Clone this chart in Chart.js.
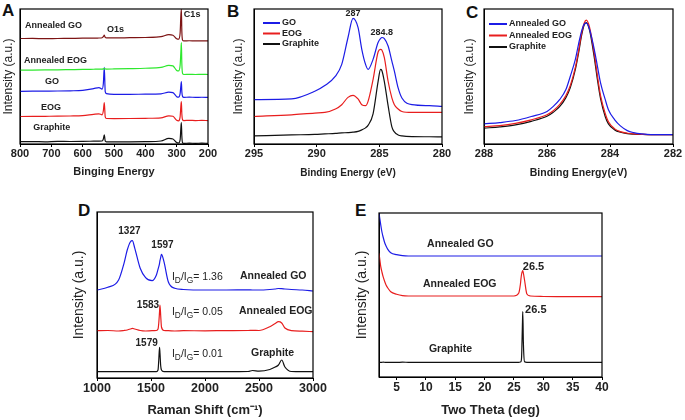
<!DOCTYPE html>
<html>
<head>
<meta charset="utf-8">
<script src="https://cdn.jsdelivr.net/npm/chart.js@4.4.1/dist/chart.umd.min.js"></script>
<style>
  body { margin: 0; background: #fff; width: 685px; height: 420px; position: relative; overflow: hidden; font-family: 'Liberation Sans', Arial, sans-serif; }
  .panel { position: absolute; }
  .tag { position: absolute; font-weight: bold; font-size: 17px; line-height: 17px; color: #111; }
</style>
</head>
<body>
<div class="tag" style="left:2px;top:2px">A</div>
<div class="tag" style="left:227px;top:3px">B</div>
<div class="tag" style="left:466px;top:4px">C</div>
<div class="tag" style="left:78px;top:202px">D</div>
<div class="tag" style="left:355px;top:202px">E</div>

<div class="panel" style="left:0;top:0;width:223px;height:179px"><canvas id="chartA"></canvas></div>
<div class="panel" style="left:225px;top:0;width:232px;height:179px"><canvas id="chartB"></canvas></div>
<div class="panel" style="left:450px;top:0;width:235px;height:179px"><canvas id="chartC"></canvas></div>
<div class="panel" style="left:60px;top:200px;width:268px;height:218px"><canvas id="chartD"></canvas></div>
<div class="panel" style="left:345px;top:200px;width:272px;height:218px"><canvas id="chartE"></canvas></div>

<script>
// ---- A : survey XPS (binding energy, eV)
const surveyEnergy = [800, 760, 720, 680, 640, 600, 565, 548, 538, 534, 531, 528, 524, 500, 450, 400, 350, 325, 312, 300, 294, 289, 286.5, 285, 283.5, 281, 277, 260, 240, 220, 200];
const surveyAnnealedGO  = [104.7, 104.8, 104.5, 104.7, 104.8, 105, 105, 105.2, 105.5, 106.5, 108, 105.8, 105.3, 105.3, 105.5, 105.7, 106.5, 108.5, 108, 104.5, 104, 110, 128, 134, 112, 103, 102.3, 102.5, 102.3, 102.4, 102.3];
const surveyAnnealedEOG = [73.3, 73.4, 73.5, 73.6, 73.8, 74, 74.2, 74.3, 74.4, 74.6, 75, 74.5, 74.4, 74.5, 74.8, 75.2, 76, 78, 77.5, 73, 72.5, 78, 92, 100.7, 80, 70, 69, 69.2, 69, 69.1, 69];
const surveyGO          = [52.3, 52.4, 52.5, 52.6, 52.8, 53.2, 55, 56, 54.5, 60, 76, 52, 50, 49.3, 49.3, 49.5, 49.8, 51.5, 51, 47, 46.5, 50, 58, 62, 52, 47, 46.3, 46.5, 46.3, 46.4, 46.3];
const surveyEOG         = [27.3, 27.4, 27.5, 27.6, 27.8, 28.2, 29.5, 30, 29, 33, 41, 27, 25.3, 25.2, 25.3, 25.5, 26, 28, 27.5, 23.5, 23, 27, 38, 42, 30, 24, 23.3, 23.5, 23.3, 23.4, 23.3];
const surveyGraphite    = [2.3, 2.4, 2.2, 2.6, 2.5, 2.6, 2.8, 2.9, 3, 5, 9, 3, 2.2, 2.1, 2.2, 2.4, 3, 5.5, 5, 1.5, 1, 4, 16, 21.3, 8, 1.2, 0.7, 0.8, 0.7, 0.8, 0.7];

// ---- B : C1s of GO / EOG / graphite
const c1sEnergy = [295, 292, 290.15, 289.35, 288.5, 288, 287.5, 287.1, 286.7, 286.4, 286.1, 285.9, 285.5, 285.1, 284.9, 284.8, 284.6, 284.3, 284.0, 283.8, 283.5, 283.2, 282.4, 281, 280];
const c1sGO       = [44, 44.7, 52.3, 58, 67.3, 79, 105.7, 124.7, 115.7, 94, 79, 74, 84, 100.7, 104.7, 105.7, 104.7, 97.3, 82.3, 72.3, 55.7, 45.7, 39, 38, 37.3];
const c1sEOG      = [27.3, 29, 30.7, 31.3, 34.7, 39, 46.3, 48.3, 44.7, 39, 38, 42.3, 64, 91.3, 94, 93.3, 85.7, 62.3, 45.7, 39, 34.7, 32.3, 31.3, 31.3, 31.3];
const c1sGraphite = [8, 9, 9.5, 10, 10.5, 11, 11.3, 11.7, 12.5, 14, 16, 18.5, 30, 62, 74, 73, 62, 38, 17, 12, 9, 8, 7.3, 7.2, 7];

// ---- C : C1s after annealing
const annEnergy = [288, 287.5, 287, 286.5, 286, 285.8, 285.6, 285.4, 285.26, 285.1, 285, 284.9, 284.82, 284.75, 284.65, 284.5, 284.4, 284.3, 284.15, 284.05, 283.85, 283.67, 283.45, 283.25, 283, 282.7, 282];
const annGO       = [20, 21.3, 23.3, 27.3, 32.3, 37.3, 44, 54, 67.3, 84, 99, 112.3, 119, 120, 114, 94, 77.3, 60.7, 44, 34, 24, 18, 13.3, 11.3, 10, 9.3, 9.3];
const annEOG      = [17.3, 18.3, 20.5, 24, 29, 33, 39, 48, 58, 76, 92, 110, 120, 123, 116, 90, 68, 48, 30, 22, 15, 12.3, 10.7, 10, 9.6, 9.3, 9.3];
const annGraphite = [15.7, 17, 19, 22.5, 27.5, 31.5, 37, 46, 56, 74, 90, 108, 118, 120.5, 113, 86, 64, 45, 27, 20, 14, 11.7, 10.3, 9.8, 9.5, 9.3, 9.3];

// ---- D : Raman (cm-1)
const ramanShift = [1000, 1100, 1200, 1250, 1280, 1310, 1327, 1350, 1400, 1450, 1510, 1550, 1565, 1572, 1579, 1583, 1590, 1597, 1620, 1660, 1720, 1800, 2000, 2200, 2400, 2440, 2500, 2600, 2650, 2680, 2710, 2740, 2800, 2900, 3000];
const ramanAnnealedGO  = [88, 90.7, 98, 114.7, 128, 136.3, 137.3, 129.7, 109.7, 100.3, 97.3, 103, 108.7, 111.3, 114.7, 117.3, 120.7, 123.7, 116.3, 96.3, 89.7, 88.5, 88, 88, 88.2, 88, 88, 88.5, 89, 89.5, 89.3, 89, 88.5, 88, 87];
const ramanAnnealedEOG = [47.3, 47.5, 47, 47.5, 48, 49, 49.7, 49, 47.5, 47, 47.3, 47.5, 49, 55, 66, 73, 62, 51, 47.5, 47.3, 47, 47.3, 47.2, 47.4, 47.5, 47.7, 47.5, 51.3, 54.5, 56.3, 55, 50, 47.3, 46.8, 46.3];
const ramanGraphite    = [6.3, 6.3, 6.3, 6.3, 6.3, 6.3, 6.3, 6.3, 6.3, 6.3, 6.3, 6.3, 8, 18, 30.7, 25, 12, 8, 6.3, 6.3, 6.3, 6.3, 6.3, 6.3, 6.5, 7.5, 6.8, 8.5, 11, 13, 18, 11, 6.5, 6.3, 6.3];

// ---- E : XRD (two theta, deg)
const twoTheta = [2, 2.15, 2.3, 2.5, 2.7, 3, 3.2, 3.5, 4, 5, 6, 7, 10, 15, 20, 25, 25.8, 26.1, 26.2, 26.3, 26.45, 26.5, 26.6, 26.8, 27.2, 27.8, 30, 35, 40];
const xrdAnnealedGO  = [163.7, 158, 152, 145, 140, 133.7, 131, 127.7, 124.3, 122.3, 121.3, 121, 121, 121, 121, 121, 121, 121, 121, 121, 121, 121, 121, 121, 121, 121, 121, 121, 121];
const xrdAnnealedEOG = [123.7, 117, 110.3, 105, 100.3, 95, 92, 89, 85.3, 82.7, 81.3, 81, 81, 81, 81, 81, 83.7, 93, 98.7, 103, 106, 106.3, 104, 97, 83, 81, 80.5, 80.3, 80.3];
const xrdGraphite    = [14.7, 14.7, 14.6, 14.7, 14.8, 14.7, 14.6, 14.7, 14.7, 14.6, 14.8, 14.7, 14.6, 14.7, 14.7, 14.7, 14.7, 15, 15.5, 20, 55, 65.3, 35, 15.3, 14.7, 14.7, 14.7, 14.7, 14.7];

const BLUE = '#1c1ce6', RED = '#e81e1e', BLACK = '#111', GREEN = '#2ee82e', BROWN = '#7d1414';
const FONT = "'Liberation Sans', Arial, sans-serif";
const TXT = '#222';

Chart.defaults.font.family = FONT;
Chart.defaults.color = TXT;

// draws rich text: "_X" makes X a subscript
function drawRich(ctx, text, px, py, size, bold, align) {
  const parts = text.split(/_(\w)/);
  const f = (s) => (bold ? 'bold ' : '') + s + 'px ' + FONT;
  let w = 0;
  parts.forEach((p, i) => { ctx.font = f(i % 2 ? size * 0.8 : size); w += ctx.measureText(p).width; });
  let cx = align === 'center' ? px - w / 2 : px;
  parts.forEach((p, i) => {
    const sub = i % 2 === 1;
    ctx.font = f(sub ? size * 0.8 : size);
    ctx.fillText(p, cx, py + (sub ? size * 0.35 : 0));
    cx += ctx.measureText(p).width;
  });
}

const decor = {
  id: 'decor',
  afterDatasetsDraw(chart, args, opts) {
    const { ctx, chartArea: a, scales: { x, y } } = chart;
    ctx.save();
    ctx.strokeStyle = '#000';
    ctx.lineWidth = 1.2;
    ctx.strokeRect(a.left, a.top, a.right - a.left, a.bottom - a.top);
    ctx.fillStyle = TXT;
    ctx.textBaseline = 'middle';
    ctx.textAlign = 'left';
    (opts.notes || []).forEach(n => {
      drawRich(ctx, n.t, x.getPixelForValue(n.x), y.getPixelForValue(n.y), n.size || opts.size, n.bold !== false, n.align);
    });
    const lg = opts.legend;
    if (lg) {
      chart.data.datasets.forEach((ds, i) => {
        const ly = a.top + lg.y + i * lg.gap;
        const lx = a.left + lg.x;
        ctx.strokeStyle = ds.borderColor;
        ctx.lineWidth = 2;
        ctx.beginPath(); ctx.moveTo(lx, ly); ctx.lineTo(lx + lg.len, ly); ctx.stroke();
        ctx.fillStyle = TXT;
        ctx.font = 'bold ' + lg.size + 'px ' + FONT;
        ctx.fillText(ds.label, lx + lg.len + 2, ly);
      });
    }
    ctx.restore();
  }
};

function panel(id, c) {
  return new Chart(document.getElementById(id), {
    type: 'line',
    data: {
      datasets: c.series.map(s => ({
        label: s.label,
        data: c.xs.map((v, i) => ({ x: v, y: s.ys[i] })),
        borderColor: s.color,
        borderWidth: 1.2,
        pointRadius: 0,
        cubicInterpolationMode: 'monotone'
      }))
    },
    options: {
      animation: false,
      responsive: true,
      maintainAspectRatio: false,
      layout: { padding: { top: c.padTop, right: c.padRight, left: 0, bottom: 0 } },
      plugins: {
        legend: { display: false },
        tooltip: { enabled: false },
        decor: { notes: c.notes, legend: c.legend, size: c.noteSize }
      },
      scales: {
        x: {
          type: 'linear', min: c.min, max: c.max, reverse: !!c.reverse,
          afterBuildTicks: s => { s.ticks = s.ticks.filter(t => Math.abs(t.value / c.step - Math.round(t.value / c.step)) < 1e-6); },
          ticks: { stepSize: c.step, maxRotation: 0, autoSkip: false, padding: 0, color: TXT, font: { size: c.tickSize, weight: 'bold' }, callback: v => String(v) },
          grid: { drawOnChartArea: false, tickLength: 3, color: '#000' },
          border: { color: '#000' },
          title: { display: true, text: c.xTitle, color: TXT, padding: { top: 0, bottom: 0 }, font: { size: c.xTitleSize, weight: 'bold' } },
          afterFit: s => { s.height = c.xH; }
        },
        y: {
          min: 0, max: c.yMax,
          ticks: { display: false },
          grid: { display: false },
          border: { color: '#000' },
          title: { display: true, text: 'Intensity (a.u.)', color: TXT, padding: { top: c.yTitlePad, bottom: 0 }, font: { size: c.yTitleSize } },
          afterFit: s => { s.width = c.yW; }
        }
      }
    },
    plugins: [decor]
  });
}

panel('chartA', {
  xs: surveyEnergy, min: 200, max: 800, step: 100, reverse: true, yMax: 134,
  padTop: 9, padRight: 15, yW: 20, xH: 35, yTitlePad: 1, yTitleSize: 12,
  tickSize: 11, xTitle: 'Binging Energy', xTitleSize: 11, noteSize: 9,
  series: [
    { label: 'Annealed GO', ys: surveyAnnealedGO, color: BROWN },
    { label: 'Annealed EOG', ys: surveyAnnealedEOG, color: GREEN },
    { label: 'GO', ys: surveyGO, color: BLUE },
    { label: 'EOG', ys: surveyEOG, color: RED },
    { label: 'Graphite', ys: surveyGraphite, color: BLACK }
  ],
  notes: [
    { t: 'Annealed GO', x: 784, y: 118 },
    { t: 'O1s', x: 522, y: 114 },
    { t: 'C1s', x: 277, y: 129 },
    { t: 'Annealed EOG', x: 787, y: 83 },
    { t: 'GO', x: 720, y: 62 },
    { t: 'EOG', x: 733, y: 36 },
    { t: 'Graphite', x: 758, y: 16 }
  ]
});

panel('chartB', {
  xs: c1sEnergy, min: 280, max: 295, step: 5, reverse: true, yMax: 134,
  padTop: 9, padRight: 15, yW: 29, xH: 35, yTitlePad: 6.8, yTitleSize: 12,
  tickSize: 11, xTitle: 'Binding Energy (eV)', xTitleSize: 10, noteSize: 9,
  series: [
    { label: 'GO', ys: c1sGO, color: BLUE },
    { label: 'EOG', ys: c1sEOG, color: RED },
    { label: 'Graphite', ys: c1sGraphite, color: BLACK }
  ],
  legend: { x: 9, y: 14, gap: 10.5, len: 17, size: 9 },
  notes: [
    { t: '287', x: 287.1, y: 129.8, align: 'center' },
    { t: '284.8', x: 284.8, y: 110.8, align: 'center' }
  ]
});

panel('chartC', {
  xs: annEnergy, min: 282, max: 288, step: 2, reverse: true, yMax: 134,
  padTop: 9, padRight: 12, yW: 34, xH: 35, yTitlePad: 12.3, yTitleSize: 12,
  tickSize: 11, xTitle: 'Binding Energy(eV)', xTitleSize: 10.5, noteSize: 9,
  series: [
    { label: 'Annealed GO', ys: annGO, color: BLUE },
    { label: 'Annealed EOG', ys: annEOG, color: RED },
    { label: 'Graphite', ys: annGraphite, color: BLACK }
  ],
  legend: { x: 5, y: 15, gap: 11.5, len: 18, size: 9 },
  notes: []
});

panel('chartD', {
  xs: ramanShift, min: 1000, max: 3000, step: 500, yMax: 166,
  padTop: 12, padRight: 15, yW: 37, xH: 40, yTitlePad: 10.6, yTitleSize: 14,
  tickSize: 12.5, xTitle: 'Raman Shift (cm\u207B\u00B9)', xTitleSize: 13, noteSize: 10,
  series: [
    { label: 'Annealed GO', ys: ramanAnnealedGO, color: BLUE },
    { label: 'Annealed EOG', ys: ramanAnnealedEOG, color: RED },
    { label: 'Graphite', ys: ramanGraphite, color: BLACK }
  ],
  notes: [
    { t: '1327', x: 1300, y: 146.3, align: 'center' },
    { t: '1597', x: 1606, y: 133, align: 'center' },
    { t: 'I_D/I_G= 1.36', x: 1694, y: 101.3, bold: false, size: 10.5 },
    { t: 'Annealed GO', x: 2324, y: 102, size: 10.5 },
    { t: '1583', x: 1472, y: 73, align: 'center' },
    { t: 'I_D/I_G= 0.05', x: 1694, y: 66.3, bold: false, size: 10.5 },
    { t: 'Annealed EOG', x: 2315, y: 67, size: 10.5 },
    { t: '1579', x: 1460, y: 35, align: 'center' },
    { t: 'I_D/I_G= 0.01', x: 1694, y: 24, bold: false, size: 10.5 },
    { t: 'Graphite', x: 2426, y: 25.3, size: 10.5 }
  ]
});

panel('chartE', {
  xs: twoTheta, min: 2, max: 40, step: 5, yMax: 164,
  padTop: 13, padRight: 15, yW: 34, xH: 41, yTitlePad: 9.1, yTitleSize: 14,
  tickSize: 12, xTitle: 'Two Theta (deg)', xTitleSize: 13, noteSize: 10.5,
  series: [
    { label: 'Annealed GO', ys: xrdAnnealedGO, color: BLUE },
    { label: 'Annealed EOG', ys: xrdAnnealedEOG, color: RED },
    { label: 'Graphite', ys: xrdGraphite, color: BLACK }
  ],
  notes: [
    { t: 'Annealed GO', x: 10.2, y: 133 },
    { t: '26.5', x: 26.5, y: 110.3, size: 11 },
    { t: 'Annealed EOG', x: 9.5, y: 93 },
    { t: '26.5', x: 26.9, y: 67, size: 11 },
    { t: 'Graphite', x: 10.5, y: 28.3 }
  ]
});
</script>
</body>
</html>
